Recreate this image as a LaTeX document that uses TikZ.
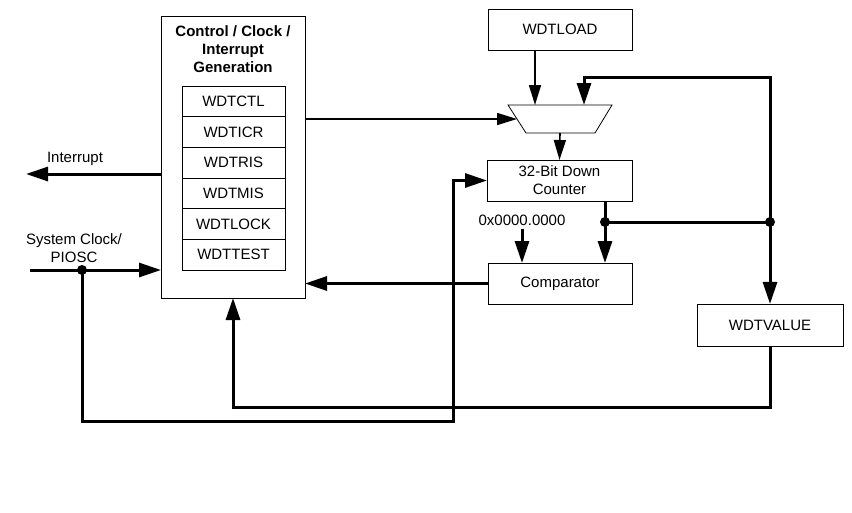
\documentclass[tikz,border=0pt]{standalone}
\usepackage{fontspec}
\setmainfont{Liberation Sans}
\usetikzlibrary{arrows.meta, positioning}
\tikzstyle{block} = [draw, line width=0.8pt, inner sep=0pt, outer sep=0pt, align=center]
\tikzstyle{reg} = [block, minimum width=103pt, minimum height=30.67pt]
\tikzstyle{arrow} = [line width=1.6pt, -{Triangle[length=20pt,width=12pt]}]
\tikzstyle{bus} = [line width=3pt]
\tikzstyle{busarrow} = [bus, -{Triangle[length=22pt,width=14pt]}]
\tikzstyle{junction} = [circle, fill, inner sep=0pt, minimum size=10pt]

\begin{document}
\begin{tikzpicture}[x=1pt, y=-1pt, every node/.style={font=\fontsize{15}{18}\selectfont}]
        \useasboundingbox (0,0) rectangle (852,512);
        % 控制块
        \node[block, minimum width=144pt, minimum height=282pt] (ctrl) at (233,157) {};
        \node[align=center, font=\fontsize{15}{18}\selectfont\bfseries] (title) at (233,49) {Control / Clock /\\Interrupt\\Generation};
        % 寄存器
        \node[reg] (wdtctl) at (233.5,101.3) {WDTCTL};
        \node[reg, below=0pt of wdtctl] (wdticr) {WDTICR};
        \node[reg, below=0pt of wdticr] (wdtris) {WDTRIS};
        \node[reg, below=0pt of wdtris] (wdtmis) {WDTMIS};
        \node[reg, below=0pt of wdtmis] (wdtlock) {WDTLOCK};
        \node[reg, below=0pt of wdtlock] (wdttest) {WDTTEST};
        % 选择器
        \draw[line width=0.8pt] (508,105) -- (612,105) -- (595,133) -- (526,133) -- cycle;
        \coordinate (muxw) at (517,119);
        \coordinate (muxn) at (560,105);
        \coordinate (muxs) at (560,133);
        % 右侧
        \node[block, minimum width=144pt, minimum height=41pt] (load) at (560,29.8) {WDTLOAD};
        \node[block, minimum width=145pt, minimum height=41pt] (counter) at (559.5,180.5) {32-Bit Down\\Counter};
        \node[block, minimum width=144pt, minimum height=41pt] (cmp) at (560,283.5) {Comparator};
        \node[block, minimum width=146pt, minimum height=42.7pt] (value) at (770,325.3) {WDTVALUE};
        \node (zero) at (522,220) {0x0000.0000};
        % 标签
        \node (intlabel) at (75,159) {Interrupt};
        \node[align=center] (clklabel) at (74,248) {System Clock/\\PIOSC};
        % 节点
        \coordinate (clkin) at (30,270);
        \coordinate (intout) at (26,174);
        \node[junction] (d1) at (82,270) {};
        \node[junction] (d2) at (605,222) {};
        \node[junction] (d3) at (770,222) {};

        % 连线
        \draw[arrow] (ctrl.east |- muxw) -- (muxw);
        \draw[arrow] ([xshift=-25pt]load.south) -- ([xshift=-25pt]muxn);
        \draw[arrow] (muxs) -- (counter.north);

        \draw[busarrow] (d3.center) -- (d3.center |- 0,77) -| ([xshift=24pt]muxn);
        \draw[busarrow] (d3.center) -- (value.north);
        \draw[bus] (d2.center) -- (d3.center);
        \draw[busarrow] (counter.south -| d2) -- (cmp.north -| d2);
        \draw[busarrow] (zero.south) -- (zero.south |- cmp.north);

        \draw[busarrow] (cmp.west) -- (cmp.west -| ctrl.east);
        \draw[busarrow] (value.south) |- (ctrl.south |- 0,407) -- (ctrl.south);

        \draw[busarrow] (ctrl.west |- intout) -- (intout);
        \draw[busarrow] (clkin) -- (clkin -| ctrl.west);
        \draw[busarrow] (d1.center) |- (453,421.5) |- (counter.west);
    \end{tikzpicture}
\end{document}
